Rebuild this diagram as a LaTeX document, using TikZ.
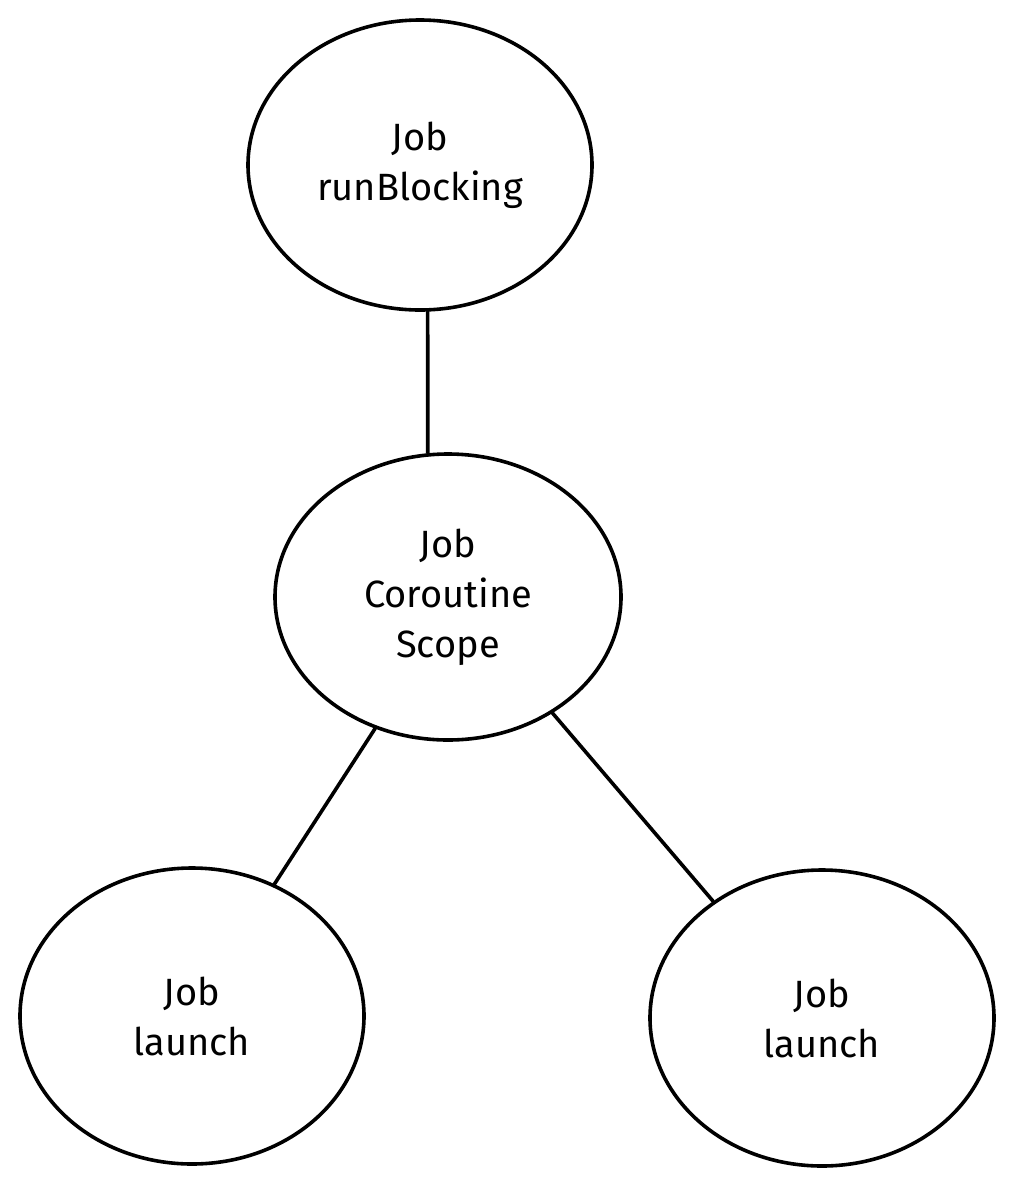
\documentclass[tikz,border=0pt]{standalone}
\usepackage{fontspec}
\setmainfont{Fira Sans}
\usetikzlibrary{shapes.geometric}
\begin{document}
\begin{tikzpicture}[x=1pt,y=1pt,
  circ/.style={draw=black, line width=3.6pt, ellipse, inner sep=0pt,
    minimum width=344pt, minimum height=290pt, align=center,
    font=\fontsize{38}{50}\selectfont},
  link/.style={draw=black, line width=3.6pt, line cap=round}]
\useasboundingbox[fill=white] (0,0) rectangle (1014,-1179);
\node[circ] (top) at (420,-165) {Job\\runBlocking};
\node[circ, minimum width=346pt, minimum height=286pt] (mid) at (448,-597) {Job\\Coroutine\\Scope};
\node[circ, minimum height=296pt] (bl) at (192,-1016) {Job\\launch};
\node[circ, minimum height=296pt] (br) at (822,-1018) {Job\\launch};
\draw[link] (top.-87) -- (mid.98);
\draw[link] (mid.-119) -- (bl.58);
\draw[link] (mid.-48.7) -- (br.133.8);
\end{tikzpicture}
\end{document}
